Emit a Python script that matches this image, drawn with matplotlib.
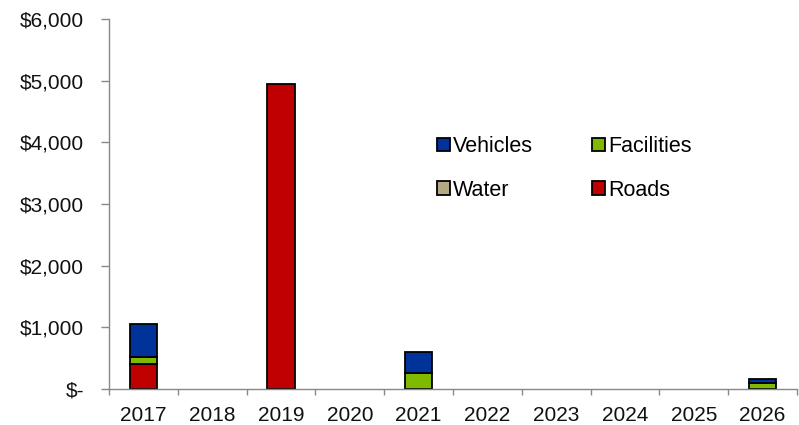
import matplotlib
matplotlib.use("Agg")
import matplotlib.pyplot as plt
import numpy as np

plt.rcParams['font.family'] = ['Liberation Sans', 'DejaVu Sans']

years = ["2017", "2018", "2019", "2020", "2021", "2022", "2023", "2024", "2025", "2026"]
roads = [405, 0, 4940, 0, 0, 0, 0, 0, 0, 0]
water = [0, 0, 0, 0, 0, 0, 0, 0, 0, 0]
facilities = [110, 0, 0, 0, 256, 0, 0, 0, 0, 95]
vehicles = [540, 0, 0, 0, 352, 0, 0, 0, 0, 65]

colors = {"Vehicles": "#003399", "Facilities": "#7FBA00", "Water": "#B3A982", "Roads": "#C00000"}

fig = plt.figure(figsize=(7.99, 4.25), dpi=100)
ax = fig.add_axes([109/799, 1 - 389/425, (797-109)/799, (389-19)/425])

x = np.arange(len(years))
w = 0.4
bottom = np.zeros(len(years))
handles = {}
for name, vals in [("Roads", roads), ("Water", water), ("Facilities", facilities), ("Vehicles", vehicles)]:
    vals = np.array(vals, dtype=float)
    lw = np.where(vals > 0, 1.3, 0.0)
    b = ax.bar(x, vals, w, bottom=bottom, color=colors[name], edgecolor="black", linewidth=lw,
               label=name)
    handles[name] = b
    bottom += vals

ax.set_xlim(-0.5, len(years) - 0.5)
ax.set_ylim(0, 6000)
ax.set_yticks(np.arange(0, 6001, 1000))
ax.set_yticklabels(["$-"] + ["${:,}".format(v) for v in range(1000, 6001, 1000)])
ax.set_xticks(x)
ax.set_xticklabels(years)
ax.set_xticks(np.arange(-0.5, len(years), 1.0), minor=True)
ax.tick_params(axis="x", which="major", length=0, pad=12, labelsize=15, labelcolor="#111111")
ax.tick_params(axis="x", which="minor", length=4.5, color="#888888", width=1)
ax.tick_params(axis="y", length=6, color="#888888", width=1, labelsize=15, pad=12,
               labelcolor="#111111")

for s in ["top", "right"]:
    ax.spines[s].set_visible(False)
for s in ["left", "bottom"]:
    ax.spines[s].set_color("#888888")
    ax.spines[s].set_linewidth(1)

order = ["Vehicles", "Water", "Facilities", "Roads"]
leg = fig.legend([handles[n] for n in order], order, ncol=2, frameon=False,
                 loc="upper left", bbox_to_anchor=(437/799, 1 - 136/425), fontsize=15.5,
                 borderpad=0, borderaxespad=0,
                 handlelength=0.6, handleheight=0.6, handletextpad=0.15,
                 columnspacing=2.75, labelspacing=1.05)
for h in leg.legend_handles:
    h.set_linewidth(1.3)

fig.savefig("out.png", dpi=100)
